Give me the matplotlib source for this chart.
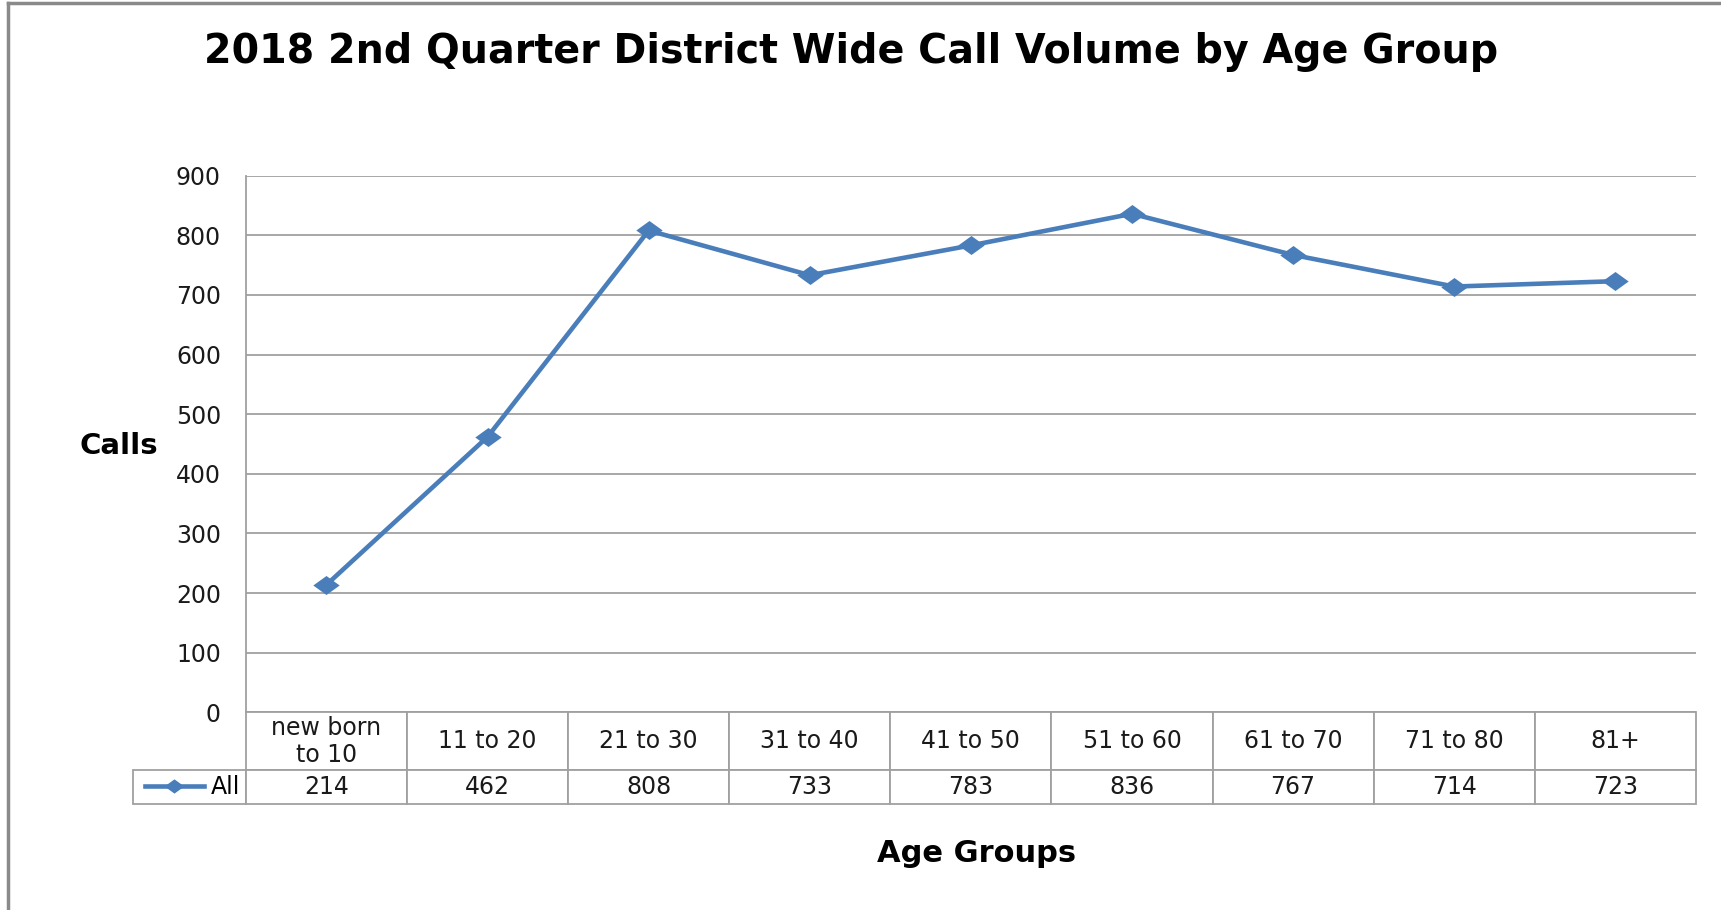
import numpy as np
import matplotlib
matplotlib.use("Agg")
import matplotlib.pyplot as plt
from matplotlib.table import Table
from matplotlib.lines import Line2D
from matplotlib.path import Path

# dados
faixas = ["new born\nto 10", "11 to 20", "21 to 30", "31 to 40", "41 to 50",
          "51 to 60", "61 to 70", "71 to 80", "81+"]
chamadas = [214, 462, 808, 733, 783, 836, 767, 714, 723]
serie = "All"
y_ticks = [0, 100, 200, 300, 400, 500, 600, 700, 800, 900]

azul = "#4A7EBB"
cinza = "#A0A0A0"

# losango achatado, como no excel esticado
losango = Path([(-1, 0), (0, 0.72), (1, 0), (0, -0.72), (-1, 0)],
               [Path.MOVETO, Path.LINETO, Path.LINETO, Path.LINETO, Path.CLOSEPOLY])

fig = plt.figure(figsize=(17.21, 9.10), dpi=100)
ax = fig.add_axes([0.1429, 0.2172, 0.8425, 0.5898])

x = np.arange(len(chamadas))
ax.plot(x, chamadas, color=azul, lw=3.3, marker=losango, markersize=19,
        markeredgewidth=0, label=serie, clip_on=False, zorder=3)

ax.set_xlim(-0.5, len(chamadas) - 0.5)
ax.set_ylim(0, 900)
ax.set_yticks(y_ticks)
ax.set_xticks([])
ax.tick_params(axis="y", length=0, pad=18, labelsize=17, labelcolor="#1a1a1a")
ax.yaxis.grid(True, color=cinza, lw=1.3)
ax.set_axisbelow(True)
for s in ["top", "right", "bottom"]:
    ax.spines[s].set_visible(False)
ax.spines["left"].set_color(cinza)
ax.spines["left"].set_linewidth(1.3)

# tabela de dados embaixo do grafico (tamanhos em fracao dos eixos)
larg = 1.0 / len(faixas)
larg_rot = 113 / 1450
alt_cab = 58 / 536.8
alt_dado = 34 / 536.8
tab = Table(ax, bbox=[0, -(alt_cab + alt_dado), 1, alt_cab + alt_dado])
tab.auto_set_font_size(False)
for j, (f, v) in enumerate(zip(faixas, chamadas)):
    tab.add_cell(0, j, width=larg, height=alt_cab, text=f, loc="center",
                 edgecolor=cinza)
    tab.add_cell(1, j, width=larg, height=alt_dado, text=str(v), loc="center",
                 edgecolor=cinza)
tab.add_cell(1, -1, width=larg_rot, height=alt_dado, text="", edgecolor=cinza)
tab.set_fontsize(17)
for c in tab.get_celld().values():
    c.set_linewidth(1.3)
    c.get_text().set_color("#1a1a1a")
    c.get_text().set_linespacing(1.15)
ax.add_table(tab)

# legenda dentro da celula da serie
ax.legend(loc="center right", bbox_to_anchor=(-0.004, -0.140), frameon=False,
          fontsize=17, handlelength=2.5, handletextpad=0.3, borderpad=0,
          borderaxespad=0, markerscale=0.75)

fig.text(0.4945, 0.943, "2018 2nd Quarter District Wide Call Volume by Age Group",
         ha="center", va="center", fontsize=28.5, fontweight="bold")
fig.text(0.0689, 0.5103, "Calls", ha="center", va="center", fontsize=21,
         fontweight="bold")
fig.text(0.5677, 0.0626, "Age Groups", ha="center", va="center", fontsize=22,
         fontweight="bold")

# moldura do grafico (so esquerda e topo aparecem)
fig.add_artist(Line2D([0.0047, 0.0047], [0, 0.997], transform=fig.transFigure,
                      color="#8a8a8a", lw=2.5))
fig.add_artist(Line2D([0.0047, 1], [0.997, 0.997], transform=fig.transFigure,
                      color="#8a8a8a", lw=2.5))

fig.savefig("out.png", dpi=100)
